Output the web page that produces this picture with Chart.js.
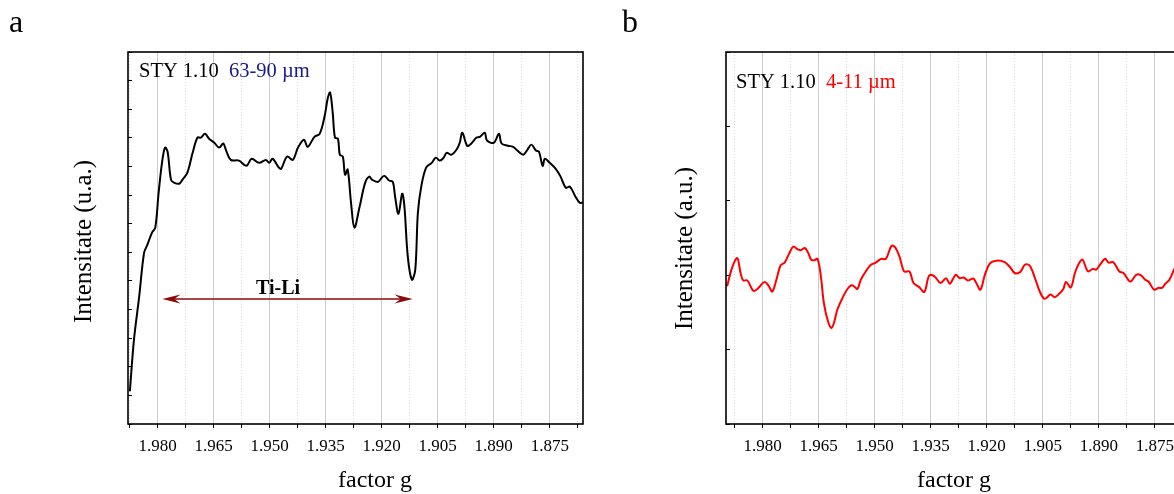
<!DOCTYPE html>
<html><head><meta charset="utf-8">
<script src="https://cdn.jsdelivr.net/npm/chart.js@4"></script>
<style>
html,body{margin:0;padding:0;background:#fff;overflow:hidden;width:1174px;height:494px;position:relative;}
#wrapA{position:absolute;left:0;top:0;width:600px;height:494px;}
#wrapB{position:absolute;left:600px;top:0;width:600px;height:494px;}
canvas{display:block;}
</style></head><body>
<div id="wrapA"><canvas id="cA" width="600" height="494"></canvas></div>
<div id="wrapB"><canvas id="cB" width="600" height="494"></canvas></div>
<script>
// ---- data (g factor, intensity in arbitrary units) ----
const gA = [1.9874,1.9863,1.9849,1.9836,1.9827,1.9815,1.9806,1.9797,1.9788,1.9780,
1.9773,1.9764,1.9756,1.9742,1.9733,1.9720,1.9706,1.9693,1.9684,1.9673,
1.9662,1.9648,1.9635,1.9624,1.9617,1.9604,1.9582,1.9562,1.9548,1.9528,
1.9510,1.9501,1.9492,1.9475,1.9469,1.9453,1.9438,1.9424,1.9408,1.9398,
1.9380,1.9366,1.9353,1.9344,1.9338,1.9331,1.9325,1.9317,1.9312,1.9304,
1.9298,1.9291,1.9282,1.9273,1.9259,1.9244,1.9233,1.9226,1.9210,1.9194,
1.9179,1.9170,1.9164,1.9155,1.9145,1.9139,1.9130,1.9119,1.9110,1.9103,
1.9094,1.9081,1.9066,1.9055,1.9044,1.9034,1.9026,1.9013,1.8998,1.8991,
1.8984,1.8971,1.8960,1.8946,1.8937,1.8924,1.8918,1.8900,1.8886,1.8879,
1.8862,1.8848,1.8837,1.8821,1.8810,1.8799,1.8787,1.8779,1.8769,1.8763,
1.8750,1.8734,1.8721,1.8707,1.8696,1.8681,1.8670,1.8661];
const iA = [8.8,22.7,34.3,46.0,48.2,51.4,52.8,62.2,70.2,74.3,
73.2,65.7,64.9,64.6,65.7,67.6,72.9,77.0,77.0,78.0,
76.7,75.6,74.3,75.4,73.7,71.0,70.8,69.4,71.3,70.2,
71.0,70.2,71.3,68.9,68.6,71.9,71.0,74.3,76.4,74.5,
77.2,78.0,82.6,87.7,89.1,83.7,77.0,76.7,72.4,71.9,
67.0,68.4,59.5,52.8,58.4,64.9,66.5,65.7,65.1,66.7,
65.4,65.1,61.1,56.5,61.9,58.4,45.0,38.8,41.5,56.8,
63.8,68.9,70.2,71.6,70.8,71.6,72.9,72.4,74.0,75.6,
78.3,74.8,75.4,77.0,77.2,78.3,76.2,75.6,78.0,75.4,
74.8,74.5,73.5,72.4,73.7,75.1,73.5,73.2,69.4,71.3,
70.2,68.6,66.5,63.5,63.8,61.1,59.5,59.5];
const gB = [1.9895,1.9882,1.9868,1.9859,1.9852,1.9841,1.9825,1.9814,1.9795,1.9783,
1.9774,1.9762,1.9752,1.9741,1.9729,1.9718,1.9707,1.9698,1.9687,1.9678,
1.9670,1.9662,1.9653,1.9644,1.9636,1.9625,1.9616,1.9609,1.9600,1.9586,
1.9573,1.9562,1.9553,1.9546,1.9537,1.9524,1.9510,1.9497,1.9483,1.9470,
1.9455,1.9446,1.9434,1.9421,1.9407,1.9396,1.9381,1.9367,1.9354,1.9340,
1.9324,1.9309,1.9299,1.9283,1.9272,1.9262,1.9250,1.9236,1.9228,1.9217,
1.9205,1.9192,1.9174,1.9152,1.9138,1.9125,1.9110,1.9098,1.9085,1.9071,
1.9058,1.9047,1.9040,1.9029,1.9018,1.9006,1.8995,1.8988,1.8975,1.8964,
1.8955,1.8944,1.8934,1.8928,1.8916,1.8907,1.8897,1.8883,1.8874,1.8861,
1.8845,1.8834,1.8816,1.8800,1.8789,1.8776,1.8767,1.8752,1.8740,1.8731,
1.8722,1.8711,1.8697];
const iB = [37.0,41.9,44.6,40.6,38.6,38.6,35.8,36.3,38.2,37.0,
35.6,39.2,42.6,43.4,45.8,47.7,47.0,46.7,47.3,46.0,
44.2,44.0,44.4,39.7,32.5,27.6,25.8,27.2,30.7,33.9,
36.3,37.3,36.8,36.3,38.8,41.0,42.8,43.4,44.4,44.4,
47.9,47.6,45.1,41.0,41.0,37.9,36.8,35.5,39.9,39.7,
37.9,39.2,37.7,40.1,39.2,39.4,38.6,39.1,37.9,36.1,
40.1,43.1,43.9,43.5,42.2,40.6,40.9,42.8,42.6,39.2,
35.6,33.7,33.9,34.8,34.1,35.0,36.3,38.2,36.7,40.6,
42.8,44.2,41.9,41.0,41.7,41.5,42.8,44.4,43.4,43.5,
41.0,40.6,38.3,40.1,40.1,38.8,38.3,36.1,36.6,36.6,
37.7,38.8,41.9];
const majorTicks = [1.980,1.965,1.950,1.935,1.920,1.905,1.890,1.875];
const minorTicks = [1.9875,1.9725,1.9575,1.9425,1.9275,1.9125,1.8975,1.8825,1.8675];
const yTicksA = [0,7.7,15.4,23.1,30.8,38.5,46.2,53.8,61.5,69.2,76.9,84.6,92.3,100];
const yTicksB = [0,20,40,60,80,100];
const arrowG = [1.9787, 1.9117];
const arrowI = 33.6;

const SERIF = '"Liberation Serif","Times New Roman",serif';

function makeChart(id, g, I, color, o) {
  const pts = g.map((v, k) => ({x: v, y: I[k]}));
  const overlay = {
    id: 'overlay',
    afterDraw(chart) {
      const c = chart.ctx, a = chart.chartArea;
      c.save();
      c.strokeStyle = '#000'; c.lineWidth = 1.6;
      c.strokeRect(a.left, a.top, a.right - a.left, a.bottom - a.top);
      if (o.arrow) {
        const xs = chart.scales.x, ys = chart.scales.y;
        const x1 = xs.getPixelForValue(arrowG[0]), x2 = xs.getPixelForValue(arrowG[1]);
        const y = ys.getPixelForValue(arrowI);
        c.strokeStyle = '#8b0a0a'; c.fillStyle = '#8b0a0a'; c.lineWidth = 1.3;
        c.beginPath(); c.moveTo(x1 + 6, y); c.lineTo(x2 - 6, y); c.stroke();
        const head = (xt, dir) => {
          c.beginPath();
          c.moveTo(xt, y);
          c.lineTo(xt + dir * 18, y - 4.5);
          c.lineTo(xt + dir * 12, y);
          c.lineTo(xt + dir * 18, y + 4.5);
          c.closePath(); c.fill();
        };
        head(x1, 1); head(x2, -1);
      }
      for (const t of o.texts) {
        c.save();
        c.font = t.font; c.fillStyle = t.color || '#000';
        c.textAlign = t.align || 'left';
        c.textBaseline = t.base || 'alphabetic';
        c.translate(t.x, t.y);
        if (t.rot) c.rotate(t.rot);
        c.fillText(t.t, 0, 0);
        c.restore();
      }
      c.restore();
    }
  };
  return new Chart(document.getElementById(id), {
    type: 'line',
    data: { datasets: [{ data: pts, borderColor: color, borderWidth: 2, pointRadius: 0, tension: 0.35, fill: false }] },
    options: {
      responsive: false, animation: false,
      layout: { padding: { left: 0, right: o.padRight, top: 52, bottom: 0 } },
      plugins: { legend: { display: false }, tooltip: { enabled: false } },
      scales: {
        xMinor: {
          type: 'linear', position: 'bottom', weight: -1, reverse: true,
          min: o.xMin, max: o.xMax,
          afterBuildTicks: s => { s.ticks = minorTicks.map(v => ({value: v})); },
          afterFit: s => { s.height = 0; },
          ticks: { display: false },
          border: { display: false, dash: [1, 2] },
          grid: { color: '#d9d9d9', lineWidth: 1, drawTicks: true, tickLength: 4, tickColor: '#000', tickWidth: 1 }
        },
        x: {
          type: 'linear', position: 'bottom', weight: 0, reverse: true,
          min: o.xMin, max: o.xMax,
          afterBuildTicks: s => { s.ticks = majorTicks.map(v => ({value: v})); },
          afterFit: s => { s.height = 70; },
          ticks: { autoSkip: false, maxRotation: 0, padding: 8, color: '#000',
                   font: { family: SERIF, size: 17 }, callback: v => Number(v).toFixed(3) },
          border: { display: false },
          grid: { color: '#cccccc', lineWidth: 1, drawTicks: true, tickLength: 4, tickColor: '#000', tickWidth: 1 }
        },
        y: {
          type: 'linear', position: 'left', min: 0, max: 100,
          afterBuildTicks: s => { s.ticks = o.yTicks.map(v => ({value: v})); },
          afterFit: s => { s.width = o.yWidth; },
          ticks: { display: false },
          border: { display: false },
          grid: { drawOnChartArea: false, drawTicks: true, tickLength: -4, tickColor: '#000', tickWidth: 1 }
        }
      }
    },
    plugins: [overlay]
  });
}

makeChart('cA', gA, iA, '#000000', {
  xMin: 1.8661, xMax: 1.9879, yTicks: yTicksA, yWidth: 128, padRight: 17, arrow: true,
  texts: [
    { t: 'a', x: 9, y: 32, font: '32px ' + SERIF },
    { t: 'STY 1.10', x: 139, y: 77, font: '20.5px ' + SERIF },
    { t: '63-90 \u00b5m', x: 229, y: 77, font: '20.5px ' + SERIF, color: '#1a1a8c' },
    { t: 'Ti-Li', x: 278, y: 294, font: 'bold 20px ' + SERIF, align: 'center' },
    { t: 'factor g', x: 375, y: 487, font: '24px ' + SERIF, align: 'center' },
    { t: 'Intensitate (u.a.)', x: 84, y: 241.5, font: '25px ' + SERIF, align: 'center', base: 'middle', rot: -Math.PI / 2 }
  ]
});

makeChart('cB', gB, iB, '#ff0000', {
  xMin: 1.8680, xMax: 1.9898, yTicks: yTicksB, yWidth: 126, padRight: 19, arrow: false,
  texts: [
    { t: 'b', x: 22, y: 32, font: '32px ' + SERIF },
    { t: 'STY 1.10', x: 136, y: 88, font: '20.5px ' + SERIF },
    { t: '4-11 \u00b5m', x: 226, y: 88, font: '20.5px ' + SERIF, color: '#ff0000' },
    { t: 'factor g', x: 354, y: 487, font: '24px ' + SERIF, align: 'center' },
    { t: 'Intensitate (a.u.)', x: 85, y: 248.5, font: '25px ' + SERIF, align: 'center', base: 'middle', rot: -Math.PI / 2 }
  ]
});
</script>
</body></html>
